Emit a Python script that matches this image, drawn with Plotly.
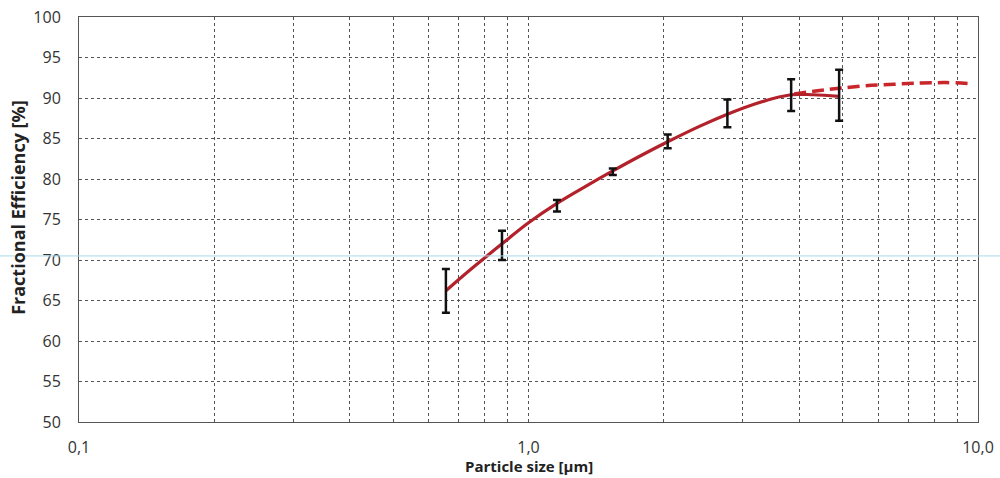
import plotly.graph_objects as go

# measured points (particle size in um, efficiency in %)
size = [0.655, 0.873, 1.157, 1.54, 2.04, 2.77, 3.84, 4.91]
eff = [66.2, 72.1, 76.9, 81.0, 84.6, 88.1, 90.4, 90.3]
err_plus = [2.7, 1.5, 0.5, 0.3, 0.9, 1.7, 1.9, 3.2]
err_minus = [2.7, 2.1, 0.9, 0.5, 0.8, 1.7, 2.0, 3.1]

# solid fitted curve
fit_x = [0.655, 0.75, 0.873, 1.0, 1.157, 1.34, 1.54, 1.78, 2.04, 2.4, 2.77, 3.2, 3.84, 4.3, 4.91]
fit_y = [66.2, 69.0, 72.0, 74.6, 77.0, 79.1, 81.0, 82.9, 84.6, 86.5, 88.0, 89.3, 90.4, 90.4, 90.2]

# dashed extrapolation
ext_x = [3.9, 4.4, 4.91, 5.6, 6.5, 7.5, 8.5, 9.5]
ext_y = [90.5, 90.9, 91.2, 91.5, 91.7, 91.85, 91.9, 91.8]

x_grid = [0.1, 0.2, 0.3, 0.4, 0.5, 0.6, 0.7, 0.8, 0.9,
          1, 2, 3, 4, 5, 6, 7, 8, 9, 10]
x_labels = {0.1: "0,1", 1: "1,0", 10: "10,0"}
y_ticks = list(range(50, 101, 5))

fig = go.Figure()
fig.add_trace(go.Scatter(x=ext_x, y=ext_y, mode="lines", line_shape="spline",
                         line=dict(color="#c8262b", width=3.5, dash="12px,6px"),
                         showlegend=False, hoverinfo="skip"))
fig.add_trace(go.Scatter(x=fit_x, y=fit_y, mode="lines", line_shape="spline",
                         line=dict(color="#b3212b", width=3.2),
                         showlegend=False))
fig.add_trace(go.Scatter(x=size, y=eff, mode="markers",
                         marker=dict(size=1, color="rgba(0,0,0,0)"),
                         error_y=dict(type="data", symmetric=False,
                                      array=err_plus, arrayminus=err_minus,
                                      color="#111111", thickness=2.5, width=4),
                         showlegend=False))

font_fam = "Open Sans, Noto Sans, sans-serif"
fig.update_layout(
    width=1000, height=478,
    margin=dict(l=79, r=22, t=17, b=56, autoexpand=False),
    paper_bgcolor="white", plot_bgcolor="white",
    font=dict(family=font_fam, color="#333333"),
    xaxis=dict(type="log", range=[-1, 1], automargin=False,
               tickmode="array", tickvals=x_grid,
               ticktext=[x_labels.get(v, "") for v in x_grid],
               showgrid=True, gridcolor="#555555", griddash="dot", gridwidth=1,
               showline=True, linecolor="#555555", linewidth=1, mirror=True,
               ticks="", ticklabelstandoff=11, tickfont=dict(size=16, color="#333333"),
               zeroline=False),
    yaxis=dict(range=[50, 100], automargin=False, tickmode="array", tickvals=y_ticks,
               showgrid=True, gridcolor="#555555", griddash="dot", gridwidth=1,
               showline=True, linecolor="#555555", linewidth=1, mirror=True,
               ticks="", ticklabelstandoff=14, tickfont=dict(size=16, color="#333333"),
               zeroline=False),
    annotations=[
        dict(text="<b>Particle size [µm]</b>", xref="paper", yref="paper",
             x=0.5006, y=-0.1075, xanchor="center", yanchor="middle",
             showarrow=False, font=dict(size=15, color="#222222")),
        dict(text="<b>Fractional Efficiency [%]</b>", xref="paper", yref="paper",
             x=-0.068, y=0.531, xanchor="center", yanchor="middle", textangle=-90,
             showarrow=False, font=dict(size=18, color="#222222")),
    ],
)

# faint scan line artifact across the page
fig.add_shape(type="line", xref="paper", yref="y", x0=-0.09, x1=1.03, y0=70.5, y1=70.5,
              line=dict(color="#a8d8e8", width=1), layer="above")

fig.write_html("out.html", config={"displayModeBar": False},
               post_script="document.body.style.margin='0px';")
